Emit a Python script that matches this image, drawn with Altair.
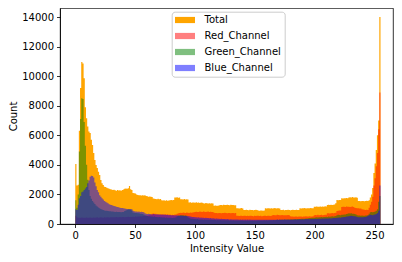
import altair as alt
import pandas as pd

series_names = ["Total", "Red_Channel", "Green_Channel", "Blue_Channel"]
series_colors = ["orange", "red", "green", "blue"]
series_alpha = [1.0, 0.5, 0.5, 0.5]
x_ticks = [0, 50, 100, 150, 200, 250]
y_ticks = [0, 2000, 4000, 6000, 8000, 10000, 12000, 14000]

total = [
    4050, 2600, 2650, 6300, 9200, 10950, 10850, 9850, 7900, 7150, 6600, 6250, 6150, 5700, 5350, 4800,
    4330, 3990, 3790, 3540, 3310, 2970, 2750, 2640, 2520, 2500, 2450, 2420, 2380, 2350, 2330, 2300,
    2320, 2280, 2250, 2300, 2260, 2280, 2250, 2300, 2330, 2390, 2400, 2380, 2420, 2570, 2350, 2300,
    2100, 2080, 2060, 2000, 1960, 1940, 1950, 1930, 1950, 1920, 1940, 1900, 1870, 1850, 1860, 1840,
    1830, 1720, 1700, 1690, 1680, 1700, 1670, 1690, 1600, 1590, 1610, 1580, 1600, 1570, 1590, 1600,
    1620, 1600, 1630, 1800, 1790, 1810, 1780, 1800, 1670, 1680, 1660, 1690, 1650, 1670, 1660, 1450,
    1470, 1440, 1460, 1450, 1430, 1470, 1440, 1450, 1420, 1460, 1440, 1400, 1390, 1420, 1400, 1380,
    1410, 1390, 1400, 1380, 1240, 1250, 1230, 1240, 1250, 1280, 1290, 1270, 1300, 1290, 1280, 1300,
    1290, 1270, 1300, 1280, 1290, 1260, 1270, 1060, 1070, 1050, 1060, 1080, 1050, 950, 940, 960,
    950, 930, 960, 940, 950, 930, 945, 960, 940, 910, 900, 920, 910, 900, 920, 1060,
    1050, 1070, 1060, 1040, 1070, 1050, 1060, 1080, 1050, 1060, 1070, 1040, 950, 940, 960, 930,
    950, 940, 960, 950, 930, 950, 960, 940, 950, 960, 940, 950, 1060, 1050, 1070, 1060,
    1080, 1050, 1060, 1070, 1060, 1080, 1070, 1060, 1170, 1160, 1180, 1170, 1160, 1190, 1170, 1180,
    1170, 1200, 1180, 1290, 1300, 1280, 1310, 1290, 1300, 1320, 1400, 1620, 1600, 1630, 1620, 1740,
    1730, 1750, 1740, 1760, 1750, 1800, 1810, 1790, 1820, 1800, 1790, 1810, 1780, 1560, 1550, 1540,
    1550, 1560, 1540, 1550, 1570, 1560, 1600, 1800, 2000, 2430, 3450, 4100, 5000, 6000, 7000, 14000,
]

red = [
    550, 450, 420, 420, 430, 440, 430, 420, 430, 440, 420, 430, 440, 430, 420, 440,
    430, 440, 450, 430, 440, 450, 440, 430, 450, 440, 450, 460, 440, 450, 460, 450,
    460, 450, 470, 460, 450, 470, 460, 480, 470, 460, 480, 470, 490, 480, 470, 480,
    490, 480, 500, 490, 510, 500, 520, 510, 530, 540, 560, 570, 580, 600, 620, 640,
    700, 710, 690, 700, 650, 660, 640, 650, 660, 640, 650, 660, 640, 650, 630, 640,
    600, 620, 610, 640, 650, 700, 720, 740, 760, 750, 770, 760, 750, 770, 760, 750,
    770, 760, 780, 800, 820, 830, 810, 820, 840, 830, 820, 840, 830, 820, 830, 840,
    820, 830, 810, 820, 760, 750, 740, 730, 750, 740, 730, 750, 740, 760, 740, 730,
    750, 740, 730, 740, 750, 730, 740, 560, 550, 540, 560, 550, 540, 550, 560, 540,
    550, 540, 560, 550, 540, 530, 550, 540, 560, 550, 540, 550, 530, 540, 560, 550,
    540, 560, 550, 540, 560, 600, 610, 590, 600, 620, 610, 600, 590, 610, 600, 590,
    600, 590, 610, 600, 520, 500, 510, 490, 500, 510, 490, 500, 510, 500, 490, 510,
    500, 520, 510, 500, 520, 510, 500, 520, 600, 610, 590, 620, 600, 610, 620, 600,
    610, 620, 630, 720, 730, 710, 720, 740, 730, 750, 760, 880, 900, 920, 910, 1150,
    1160, 1170, 1150, 1180, 1160, 1170, 1150, 1160, 1180, 1150, 1100, 1080, 1060, 1060, 1050, 1040,
    1000, 980, 960, 950, 960, 950, 1100, 1300, 1500, 1850, 2600, 3100, 3900, 4800, 6400, 8900,
]

green = [
    1600, 1100, 2000, 4900, 7100, 8500, 8450, 6900, 5300, 4000, 3000, 2300, 1900, 1700, 1550, 1450,
    1350, 1250, 1180, 1120, 1060, 1020, 980, 950, 920, 900, 890, 880, 870, 860, 850, 840,
    830, 820, 830, 820, 810, 820, 800, 810, 820, 880, 920, 950, 980, 1000, 960, 920,
    780, 760, 750, 740, 730, 720, 700, 690, 680, 650, 600, 560, 540, 530, 520, 510,
    500, 490, 500, 480, 470, 460, 470, 450, 460, 440, 450, 430, 440, 420, 430, 420,
    420, 410, 420, 430, 450, 520, 560, 580, 590, 600, 590, 580, 570, 560, 450, 400,
    380, 360, 350, 340, 330, 320, 330, 310, 300, 310, 300, 290, 300, 290, 280, 290,
    280, 290, 280, 270, 280, 270, 260, 270, 260, 270, 260, 250, 260, 250, 260, 250,
    250, 240, 250, 240, 250, 240, 230, 240, 230, 240, 230, 240, 230, 220, 230, 220,
    230, 220, 230, 220, 230, 220, 230, 220, 230, 240, 230, 240, 230, 240, 250, 240,
    250, 240, 250, 260, 250, 260, 270, 260, 270, 280, 270, 280, 290, 280, 290, 300,
    290, 300, 310, 300, 310, 320, 310, 320, 330, 320, 340, 330, 340, 350, 360, 350,
    360, 370, 380, 390, 400, 410, 420, 430, 420, 440, 450, 440, 460, 450, 470, 460,
    480, 470, 490, 480, 500, 490, 510, 520, 510, 530, 540, 600, 620, 610, 600, 620,
    630, 640, 650, 680, 700, 720, 710, 720, 700, 690, 680, 650, 600, 580, 570, 560,
    570, 560, 550, 570, 580, 600, 700, 800, 820, 800, 820, 850, 900, 1000, 1500, 1900,
]

blue = [
    1000, 950, 1300, 1750, 1900, 2150, 2200, 2300, 2400, 2500, 2750, 2950, 3200, 3270, 3250, 3150,
    2800, 2550, 2300, 2150, 1950, 1850, 1750, 1650, 1550, 1500, 1450, 1400, 1330, 1300, 1280, 1250,
    1220, 1200, 1170, 1150, 1130, 1100, 1090, 1080, 1060, 1040, 1030, 1020, 1010, 1000, 1020, 1000,
    900, 870, 850, 840, 830, 850, 820, 830, 810, 800, 720, 700, 680, 690, 670, 660,
    650, 670, 660, 640, 660, 650, 640, 650, 630, 640, 620, 630, 610, 620, 600, 610,
    600, 590, 600, 580, 590, 570, 580, 560, 570, 550, 560, 540, 550, 530, 540, 520,
    500, 490, 480, 470, 460, 450, 440, 450, 430, 440, 420, 430, 410, 420, 400, 410,
    390, 400, 380, 390, 370, 360, 370, 350, 360, 340, 350, 330, 340, 330, 320, 330,
    320, 310, 320, 310, 300, 310, 300, 310, 300, 290, 300, 290, 300, 290, 300, 290,
    300, 290, 300, 290, 280, 290, 280, 290, 280, 290, 280, 290, 280, 290, 280, 290,
    290, 280, 290, 280, 290, 280, 290, 280, 290, 300, 290, 300, 290, 300, 290, 300,
    300, 290, 300, 290, 300, 290, 300, 310, 300, 310, 300, 310, 320, 310, 320, 310,
    320, 330, 320, 330, 320, 330, 340, 330, 340, 350, 340, 350, 360, 350, 360, 370,
    360, 370, 380, 370, 380, 390, 380, 390, 400, 410, 400, 420, 430, 440, 430, 450,
    460, 470, 480, 500, 510, 530, 540, 550, 540, 530, 520, 500, 480, 460, 450, 450,
    460, 450, 470, 480, 500, 550, 600, 620, 610, 600, 620, 640, 680, 750, 900, 2600,
]

# histogram bin edges: 256 bins spanning 0..255
n_bins = len(total)
edges = [i * 255 / n_bins for i in range(n_bins + 1)]

rows = []
for name, vals in zip(series_names, [total, red, green, blue]):
    for i, v in enumerate(vals):
        rows.append({"series": name, "edge": edges[i], "count": v})
    rows.append({"series": name, "edge": edges[n_bins], "count": vals[-1]})
df = pd.DataFrame(rows)

color = alt.Color(
    "series:N",
    scale=alt.Scale(domain=series_names, range=series_colors),
    title=None,
)
opacity = alt.Opacity(
    "series:N",
    scale=alt.Scale(type="ordinal", domain=series_names, range=series_alpha),
    title=None,
)
x = alt.X(
    "edge:Q",
    scale=alt.Scale(domain=[-12.75, 265.44], nice=False, zero=False),
    axis=alt.Axis(values=x_ticks, title="Intensity Value", format="d"),
)
y = alt.Y(
    "count:Q",
    stack=None,
    scale=alt.Scale(domain=[0, 14609], nice=False),
    axis=alt.Axis(values=y_ticks, title="Count", format="d"),
)

layers = []
for name in series_names:
    layers.append(
        alt.Chart(df)
        .transform_filter(alt.datum.series == name)
        .mark_area(interpolate="step-after")
        .encode(x=x, y=y, color=color, opacity=opacity)
    )

chart = (
    alt.layer(*layers)
    .properties(
        width=333,
        height=216,
        autosize=alt.AutoSizeParams(type="none"),
        padding={"left": 52, "top": 0, "right": 1, "bottom": 30},
    )
    .configure_view(stroke="black", strokeWidth=0.8)
    .configure_axis(
        labelFont="DejaVu Sans",
        labelFontSize=10,
        labelColor="black",
        titleFont="DejaVu Sans",
        titleFontSize=10,
        titleFontWeight="normal",
        titleColor="black",
        tickColor="black",
        tickSize=3.5,
        tickWidth=0.8,
        domainColor="black",
        domainWidth=0.8,
        grid=False,
        labelPadding=3,
        titlePadding=3,
    )
    .configure_legend(
        orient="none",
        legendX=111.7,
        legendY=3.7,
        padding=3.3,
        symbolType="M-2,-0.62H2V0.62H-2Z",
        symbolSize=100,
        symbolStrokeWidth=0,
        symbolOffset=5,
        labelOffset=14.5,
        rowPadding=6,
        labelFont="DejaVu Sans",
        labelFontSize=10,
        labelColor="black",
        strokeColor="#cccccc",
        fillColor="rgba(255,255,255,0.8)",
        cornerRadius=3,
    )
)

chart.save("out.html", embed_options={"renderer": "svg", "actions": False})
